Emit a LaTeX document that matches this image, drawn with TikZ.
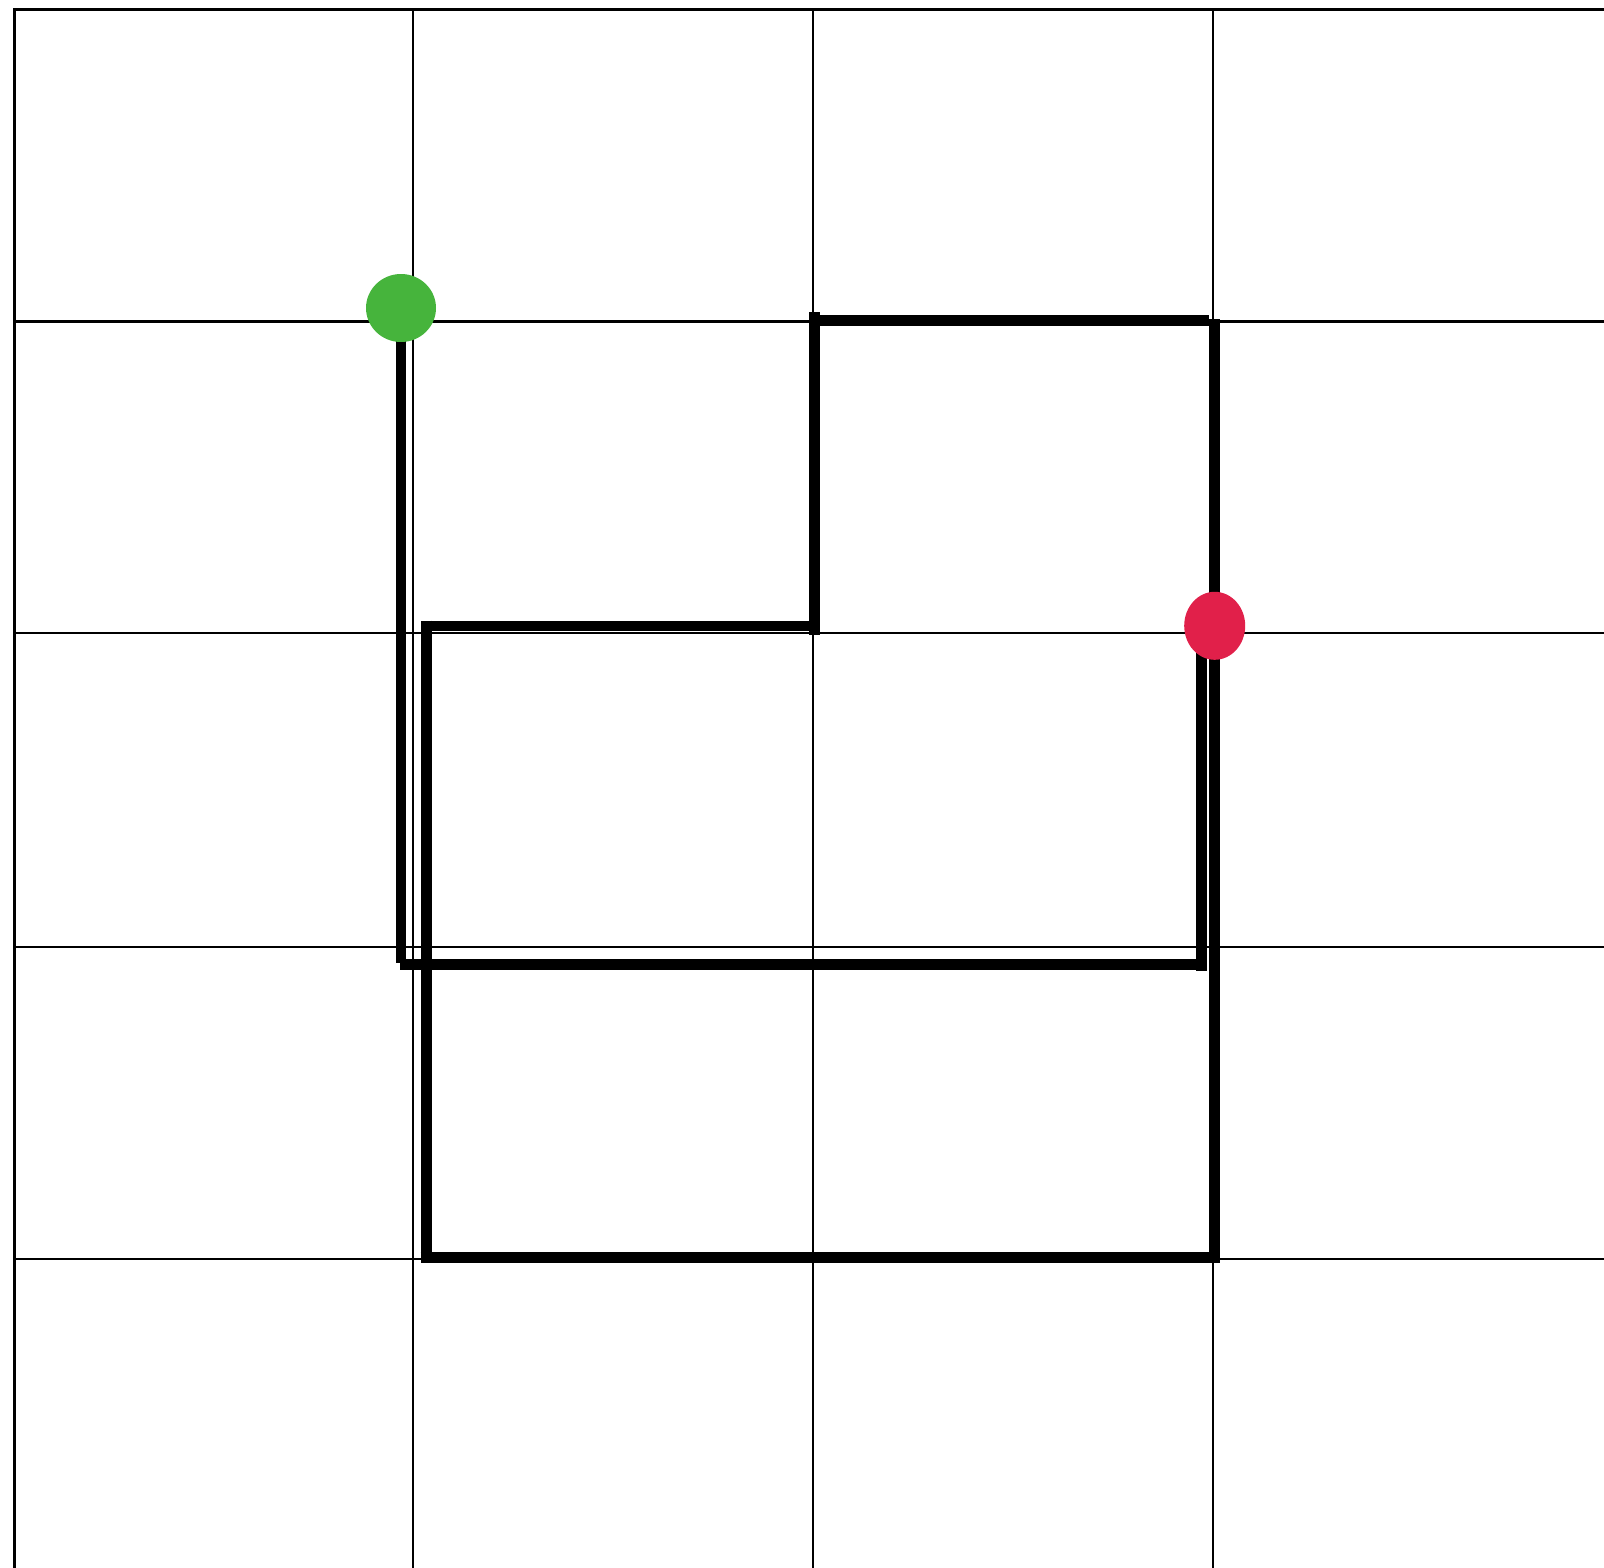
\documentclass[tikz,border=0pt]{standalone}
\definecolor{startgreen}{RGB}{70,180,60}
\definecolor{endred}{RGB}{225,32,74}
\begin{document}
\begin{tikzpicture}[x=1pt,y=-1pt,
  gridline/.style={line width=2.1pt,black},
  wall/.style={line width=10.7pt,black,line cap=butt},
  startdot/.style={ellipse,fill=startgreen,minimum width=70pt,minimum height=68pt,inner sep=0pt},
  enddot/.style={ellipse,fill=endred,minimum width=61pt,minimum height=68pt,inner sep=0pt}]
\usetikzlibrary{shapes.geometric}
\useasboundingbox (0,0) rectangle (1604,1568);
% grid
\foreach \gx in {14.5,413.3,813.3,1213.3} \draw[gridline] (\gx,8.45) -- (\gx,1568);
\foreach \gy in {9.5,321.5,633.3,947,1259.3} \draw[gridline] (13.45,\gy) -- (1604,\gy);
% path coordinates
\coordinate (a1) at (401,308);      \coordinate (a2) at (401,963.3);
\coordinate (b1) at (400,964.3);    \coordinate (b2) at (1206.5,964.3);
\coordinate (c1) at (1201.3,970.7); \coordinate (c2) at (1201.3,626);
\coordinate (d1) at (426.3,620.7);  \coordinate (d2) at (426.3,1263);
\coordinate (e1) at (420.5,1257.8); \coordinate (e2) at (1209.3,1257.8);
\coordinate (f1) at (1214.7,1262.7);\coordinate (f2) at (1214.7,319);
\coordinate (g1) at (820,320.7);    \coordinate (g2) at (1209.3,320.7);
\coordinate (h1) at (814.7,312);    \coordinate (h2) at (814.7,635);
\coordinate (i1) at (422.5,626);    \coordinate (i2) at (809.3,626);
\draw[wall] (a1) -- (a2);
\draw[wall] (b1) -- (b2);
\draw[wall] (c1) -- (c2);
\draw[wall] (d1) -- (d2);
\draw[wall] (e1) -- (e2);
\draw[wall] (f1) -- (f2);
\draw[wall] (g1) -- (g2);
\draw[wall] (h1) -- (h2);
\draw[wall] (i1) -- (i2);
% endpoints
\node[startdot] (start) at (401,308) {};
\node[enddot] (finish) at (1214.7,625.8) {};
\end{tikzpicture}
\end{document}
